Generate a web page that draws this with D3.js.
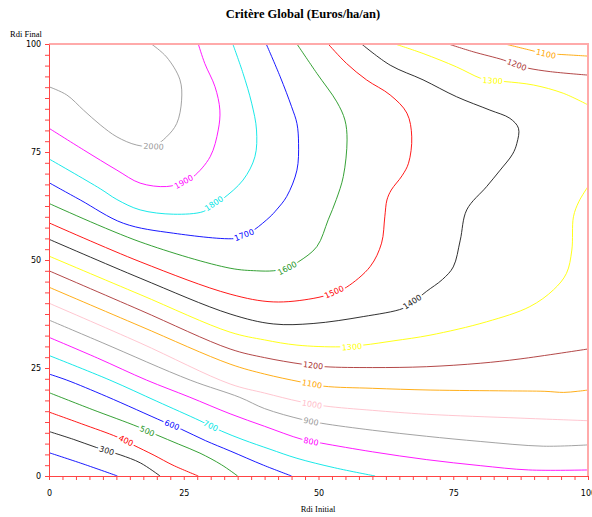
<!DOCTYPE html>
<html>
<head>
<meta charset="utf-8">
<script src="https://cdn.jsdelivr.net/npm/d3@7"></script>
<style>
body { margin:0; background:#fff; }
svg { display:block; }
</style>
</head>
<body>
<svg id="chart" width="592" height="517"></svg>
<script>
// ---- data ----
const titleText = "Critère Global (Euros/ha/an)";
const xLabel = "Rdi Initial";
const yLabel = "Rdi Final";
const xTickLabels = [0, 25, 50, 75, 100];
const yTickLabels = [0, 25, 50, 75, 100];

// contour polylines: [Rdi Initial, Rdi Final]
const c200 = [[0,5.4],[6.3,2.8],[12.7,0]];
const c300 = [[0,10.3],[4.5,8.5],[8.8,6.6],[13.2,4.9],[17,3],[20.6,0]];
const c400 = [[0,14.8],[6,12.1],[12.7,9],[15.6,7.2],[19.5,4.8],[23,2.5],[27.7,0]];
const c500 = [[0,19.3],[8,15.4],[16.5,11.4],[20,9.5],[24,7.4],[28,5.3],[32,2.6],[35,0]];
const c600 = [[0,23.6],[3.3,22.2],[10.7,18.4],[21.2,12.6],[24.6,10.8],[29,8.2],[33.6,5.8],[39.8,2.5],[45,0]];
const c700 = [[0,27.9],[11.3,22.2],[20,17.3],[28,12.8],[32,10.4],[36,8.4],[41,6.2],[46,4.1],[53,1.9],[60.5,0]];
const c800 = [[0,32.1],[9,27.3],[18.1,22.2],[26,18.3],[33.6,14.4],[40,11.5],[46.9,8.5],[50.6,7.6],[60,5.6],[70,3.8],[80,2.4],[89,1.4],[100,1.4]];
const c900 = [[0,36.1],[10,30.8],[26.2,22.2],[35.4,18.2],[40,15.6],[46.9,13.1],[50.6,12.2],[60,10.6],[70,9.2],[80,8],[91.7,6.9],[100,7.2]];
const c1000 = [[0,40],[16.9,30.8],[33.6,21.3],[40,19.2],[46.6,17.2],[51.2,16.2],[60,15.2],[70,14.3],[87.4,13.4],[100,12.8]];
const c1100a = [[0,43.7],[16.9,34.7],[33.6,25.9],[40,23.6],[46.6,21.8],[50.9,20.8],[60,20.3],[70.7,19.9],[85,19.7],[92,19.6],[95.5,19.35],[98,19.6],[100,19.9]];
const c1200a = [[0,47.5],[16.9,38.4],[33.6,29.4],[40,27.4],[46.9,25.9],[51.2,25.3],[60,25.1],[70,25.3],[80,26.1],[87.4,27.1],[100,29.4]];
const c1300a = [[0,50.9],[16.9,42],[33.6,33.3],[40,31.5],[46,30.3],[54,29.9],[58.3,30.3],[64,31.3],[70.7,32.6],[81.2,35.7],[89.2,39.2],[93.6,43.1],[96,46.9],[97,52.3],[97.3,60],[98.3,63.5],[100,67]];
const c1400 = [[0,54.8],[16.9,45.8],[33.6,37.5],[41.6,35.2],[49,35.3],[58.3,36.9],[65.7,38.8],[67.6,40.3],[70,42.7],[73,45.5],[75,48.4],[76.3,54.6],[77.5,61.6],[81.2,67],[83.7,70.8],[86,74.5],[86.8,77],[87.1,80.5],[85.5,82.8],[81.8,84.7],[75.6,87.8],[69.4,91.7],[63.3,95.1],[58,100]];
const c1500 = [[0,58.6],[16.9,49.6],[33.6,42.1],[41.6,40.3],[49,41.1],[52.9,42.4],[55.2,43.7],[59.6,48.5],[61.7,53.9],[62.3,60],[62.7,63.9],[63.5,66.2],[65.5,69.5],[66.7,72.4],[67.3,78.5],[66.4,84],[63.3,88.2],[58.9,91.7],[55.2,95.5],[51.8,100]];
const c1600 = [[0,63.1],[16.9,54.2],[33.6,48.1],[38.5,47.5],[41.6,47.5],[44,48.1],[46.3,49.6],[49.7,53.1],[51.8,59.3],[53.3,64],[54.6,69.3],[55.3,77.8],[54.9,82.4],[53.4,86.6],[49.7,93.2],[46,100]];
const c1700 = [[0,67.9],[5.8,63.9],[13.8,58.5],[23.1,56.2],[34.8,55],[36.5,55.8],[38.2,57.1],[41,60],[42.2,61.6],[44.1,64.7],[46,70.8],[46.3,77],[46,81.6],[45,85.5],[42.9,92.4],[40.3,100]];
const c1800 = [[0,73.4],[9.5,66.5],[12.6,64],[16.9,61.6],[23.1,60.6],[28.6,61.2],[30.5,62.7],[32.3,64.2],[36,68.5],[38.2,73.9],[38.5,80.1],[37.6,86.3],[36,93.2],[34.1,100]];
const c1900 = [[0,80.5],[6.4,75.5],[12.6,70.8],[16.9,67.8],[21.8,67],[24.9,68],[26.8,69.3],[29.9,73.9],[31.4,80.1],[31.7,84.7],[30.8,90.1],[28.9,95.5],[27.7,100]];
const c2000 = [[0,90.1],[3.3,88.2],[6.4,84.7],[9.5,81.3],[12.6,78.5],[16.3,76.6],[19.4,76.4],[21.8,78.5],[23.7,81.6],[24.6,87],[24.3,91.7],[21.8,97],[19,100]];
const c1300b = [[64.2,100],[69.4,97.8],[75.6,94.7],[80,92.1],[82.1,91.5],[84.6,91.3],[89.9,90.5],[95.4,88.6],[100,85.9]];
const c1200b = [[74.1,100],[78.7,98.2],[84.3,96.3],[86.8,95.1],[88.9,94.4],[93,93.6],[100,92.8]];
const c1100b = [[84.6,100],[89.2,98.6],[92.2,97.7],[94.5,97.6],[100,97.2]];

const contourLines = [
  [200,c200],[300,c300],[400,c400],[500,c500],[600,c600],[700,c700],[800,c800],
  [900,c900],[1000,c1000],[1100,c1100a],[1200,c1200a],[1300,c1300a],[1400,c1400],
  [1500,c1500],[1600,c1600],[1700,c1700],[1800,c1800],[1900,c1900],[2000,c2000],
  [1300,c1300b],[1200,c1200b],[1100,c1100b]
];
// label anchors: [level, x, y]
const contourLabels = [
  [300,10.7,5.9],[400,14.3,8.2],[500,18.2,10.4],[600,22.8,11.8],[700,30,11.6],
  [800,48.6,8.0],[900,48.6,12.6],[1000,48.8,16.6],[1100,48.8,21.3],[1200,49,25.6],
  [1300,56.2,29.9],[1400,67.4,40.3],[1500,52.9,42.6],[1600,44.2,48.1],[1700,36.2,55.8],
  [1800,30.6,63.1],[1900,25,68.1],[2000,19.4,76.3],[1300,82.3,91.5],[1200,86.8,95.2],[1100,92.2,97.7]
];
// line colours per level (style)
const levelColor = {200:"#0000ff",300:"#1a1a1a",400:"#ff0000",500:"#1f961f",600:"#0000ff",
  700:"#00e5e5",800:"#ff00ff",900:"#999999",1000:"#ffc0cb",1100:"#ffa500",1200:"#aa3333",
  1300:"#ffff00",1400:"#1a1a1a",1500:"#ff0000",1600:"#1f961f",1700:"#0000ff",1800:"#00e5e5",
  1900:"#ff00ff",2000:"#999999"};

// ---- drawing ----
const svg = d3.select("#chart");
const x = d3.scaleLinear().domain([0,100]).range([49,588]);
const y = d3.scaleLinear().domain([0,100]).range([476,44]);

svg.append("defs").append("clipPath").attr("id","plotclip")
  .append("rect").attr("x",49).attr("y",44).attr("width",539).attr("height",432);

const line = d3.line().x(d=>x(d[0])).y(d=>y(d[1])).curve(d3.curveCatmullRom.alpha(0.5));

const g = svg.append("g").attr("clip-path","url(#plotclip)");
g.selectAll("path.c").data(contourLines).join("path")
  .attr("class","c")
  .attr("d", d=>line(d[1]))
  .attr("fill","none")
  .attr("stroke", d=>levelColor[d[0]])
  .attr("stroke-width",0.9);

// labels
function angleAt(level, lx, ly){
  let best=null, bd=Infinity;
  contourLines.filter(c=>c[0]===level).forEach(c=>{
    const p=c[1];
    for(let i=0;i<p.length-1;i++){
      const ax=x(p[i][0]), ay=y(p[i][1]), bx=x(p[i+1][0]), by=y(p[i+1][1]);
      const px=x(lx), py=y(ly);
      const dx=bx-ax, dy=by-ay;
      let t=((px-ax)*dx+(py-ay)*dy)/(dx*dx+dy*dy); t=Math.max(0,Math.min(1,t));
      const qx=ax+t*dx, qy=ay+t*dy;
      const dd=(px-qx)**2+(py-qy)**2;
      if(dd<bd){bd=dd;best=Math.atan2(dy,dx)*180/Math.PI;}
    }
  });
  if(best>90) best-=180;
  if(best<-90) best+=180;
  return best;
}
const lab = svg.append("g");
contourLabels.forEach(([lv,lx,ly])=>{
  const a = angleAt(lv,lx,ly);
  lab.append("text")
    .attr("transform",`translate(${x(lx)},${y(ly)}) rotate(${a})`)
    .attr("text-anchor","middle").attr("dy","0.35em")
    .attr("font-family","DejaVu Sans, sans-serif").attr("font-size",8)
    .attr("fill", levelColor[lv])
    .attr("stroke","#fff").attr("stroke-width",4).attr("paint-order","stroke")
    .text(lv);
});

// frame (top/right)
svg.append("line").attr("x1",49).attr("x2",589).attr("y1",44).attr("y2",44)
  .attr("stroke","#ffaaaa").attr("stroke-width",2);
svg.append("line").attr("x1",588).attr("x2",588).attr("y1",44).attr("y2",476)
  .attr("stroke","#ffaaaa").attr("stroke-width",2);

// axes
const minorTicks = d3.range(0,100.01,2.5);
const xAxis = d3.axisBottom(x).tickValues(minorTicks).tickSize(4).tickSizeOuter(0)
  .tickFormat(d=> xTickLabels.includes(d) ? d : "");
const yAxis = d3.axisLeft(y).tickValues(minorTicks).tickSize(4).tickSizeOuter(0)
  .tickFormat(d=> yTickLabels.includes(d) ? d : "");
const gx = svg.append("g").attr("transform","translate(0,476)").call(xAxis);
const gy = svg.append("g").attr("transform","translate(49,0)").call(yAxis);
[gx,gy].forEach(ga=>{
  ga.select(".domain").attr("stroke","#ff4444");
  ga.selectAll(".tick line").attr("stroke","#ff4444");
  ga.selectAll(".tick text").attr("fill","#000").attr("font-family","DejaVu Sans, sans-serif").attr("font-size",8);
});
gx.selectAll(".tick text").attr("dy","1.6em");
gy.selectAll(".tick text").attr("dx","-0.1em");

// titles
svg.append("text").attr("x",303).attr("y",18).attr("text-anchor","middle")
  .attr("font-family","Liberation Serif, serif").attr("font-weight","bold").attr("font-size",12.5)
  .text(titleText);
svg.append("text").attr("x",10).attr("y",37)
  .attr("font-family","Liberation Serif, serif").attr("font-size",8.5).text(yLabel);
svg.append("text").attr("x",318).attr("y",512).attr("text-anchor","middle")
  .attr("font-family","Liberation Serif, serif").attr("font-size",8.5).text(xLabel);
</script>
</body>
</html>
